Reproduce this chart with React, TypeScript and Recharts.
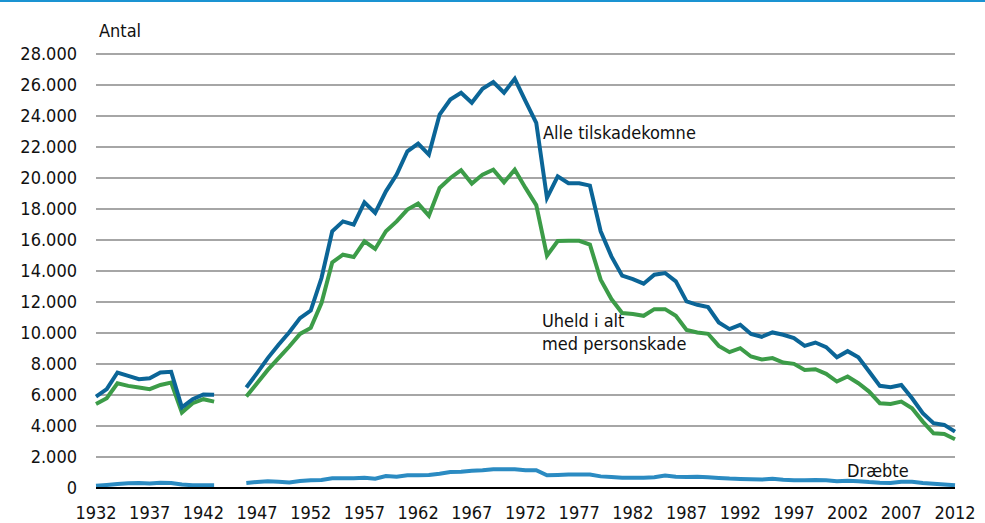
import React from "react";
import { LineChart, Line, XAxis, YAxis, CartesianGrid } from "recharts";

const years: number[] = [];
for (let y = 1932; y <= 2012; y++) years.push(y);

const alle1: number[] = [5900, 6375, 7450, 7235, 7020, 7085, 7450, 7500, 5200, 5730, 6030, 6010];
const uheld1: number[] = [5420, 5790, 6760, 6590, 6480, 6375, 6650, 6800, 4870, 5470, 5730, 5575];
const draebte1: number[] = [150, 200, 260, 300, 320, 290, 340, 320, 220, 180, 170, 170];

const alle2: number[] = [
  6480, 7410, 8380, 9240, 10050, 10960, 11450, 13545, 16560, 17200,
  16990, 18430, 17745, 19140, 20220, 21725, 22220, 21510, 24095, 25065,
  25500, 24850, 25755, 26185, 25500, 26400, 24955, 23560, 18715, 20110,
  19660, 19660, 19510, 16560, 14945, 13700, 13480, 13180, 13760, 13870,
  13330, 12035, 11820, 11670, 10680, 10250, 10530, 9940, 9755, 10035,
  9885, 9670, 9170, 9385, 9090, 8440, 8830, 8440, 7515, 6590,
  6500, 6650, 5790, 4825, 4180, 4070, 3640,
];
const uheld2: number[] = [
  5900, 6760, 7620, 8380, 9130, 9940, 10330, 11930, 14555, 15050,
  14900, 15910, 15420, 16560, 17200, 17960, 18350, 17570, 19360, 20000,
  20500, 19640, 20220, 20540, 19720, 20540, 19360, 18250, 14990, 15930,
  15950, 15950, 15700, 13440, 12190, 11285, 11220, 11110, 11540, 11540,
  11110, 10200, 10035, 9950, 9170, 8765, 9020, 8485, 8290, 8380,
  8095, 8010, 7620, 7665, 7365, 6870, 7190, 6760, 6220, 5470,
  5425, 5575, 5150, 4285, 3530, 3490, 3145,
];
const draebte2: number[] = [
  323, 388, 430, 410, 360, 450, 495, 520, 625, 625,
  625, 667, 600, 775, 730, 820, 820, 840, 925, 1033,
  1055, 1120, 1140, 1205, 1210, 1210, 1140, 1150, 820, 840,
  870, 870, 870, 750, 710, 667, 667, 667, 690, 800,
  730, 710, 730, 690, 650, 606, 580, 560, 546, 590,
  530, 500, 500, 514, 500, 440, 463, 440, 380, 340,
  320, 400, 400, 320, 270, 230, 170,
];

const yTicks = [0, 2000, 4000, 6000, 8000, 10000, 12000, 14000, 16000, 18000, 20000, 22000, 24000, 26000, 28000];
const xTicks = [1932, 1937, 1942, 1947, 1952, 1957, 1962, 1967, 1972, 1977, 1982, 1987, 1992, 1997, 2002, 2007, 2012];

const gapYears = [1944, 1945];

const data = years.map((year) => {
  if (gapYears.includes(year)) return { year, alle: null, uheld: null, draebte: null };
  if (year <= 1943) {
    const i = year - 1932;
    return { year, alle: alle1[i], uheld: uheld1[i], draebte: draebte1[i] };
  }
  const i = year - 1946;
  return { year, alle: alle2[i], uheld: uheld2[i], draebte: draebte2[i] };
});

const FONT = "'Liberation Sans Narrow', 'Arial Narrow', 'DejaVu Sans Condensed', sans-serif";
const fmt = (v: number) => (v === 0 ? "0" : v.toLocaleString("de-DE"));

export default function App() {
  return (
    <div style={{ position: "absolute", left: 0, top: 0, width: 985, height: 523, background: "#fff" }}>
      <div style={{ position: "absolute", left: 0, top: 0, width: 985, height: 2, background: "#1a93d2" }} />
      <LineChart
        width={985}
        height={523}
        data={data}
        margin={{ top: 54, right: 30, bottom: 0, left: 0 }}
      >
        <CartesianGrid horizontal vertical={false} stroke="#a6a6a6" strokeWidth={2} />
        <XAxis
          dataKey="year"
          type="number"
          domain={[1932, 2012]}
          ticks={xTicks}
          height={35}
          tickLine={false}
          tickSize={0}
          tickMargin={18}
          axisLine={{ stroke: "#000", strokeWidth: 2 }}
          tick={{ fill: "#111", fontSize: 18, fontFamily: FONT }}
          interval={0}
        />
        <YAxis
          type="number"
          domain={[0, 28000]}
          ticks={yTicks}
          width={96}
          tickLine={false}
          tickSize={0}
          tickMargin={19}
          axisLine={false}
          tickFormatter={fmt}
          tick={{ fill: "#111", fontSize: 18, fontFamily: FONT }}
          interval={0}
        />
        <Line dataKey="draebte" stroke="#2b8bc2" strokeWidth={4} dot={false} isAnimationActive={false} connectNulls={false} />
        <Line dataKey="uheld" stroke="#3c9c48" strokeWidth={4} dot={false} isAnimationActive={false} connectNulls={false} />
        <Line dataKey="alle" stroke="#0b6597" strokeWidth={4} dot={false} isAnimationActive={false} connectNulls={false} />
      </LineChart>
      <svg width={985} height={523} style={{ position: "absolute", left: 0, top: 0, pointerEvents: "none" }}>
        <g fontFamily={FONT} fontSize={18} fill="#111">
          <text x={99} y={37}>Antal</text>
          <text x={543} y={139}>Alle tilskadekomne</text>
          <text x={542} y={327}>Uheld i alt</text>
          <text x={542} y={350}>med personskade</text>
          <text x={847} y={477}>Dræbte</text>
        </g>
      </svg>
    </div>
  );
}
